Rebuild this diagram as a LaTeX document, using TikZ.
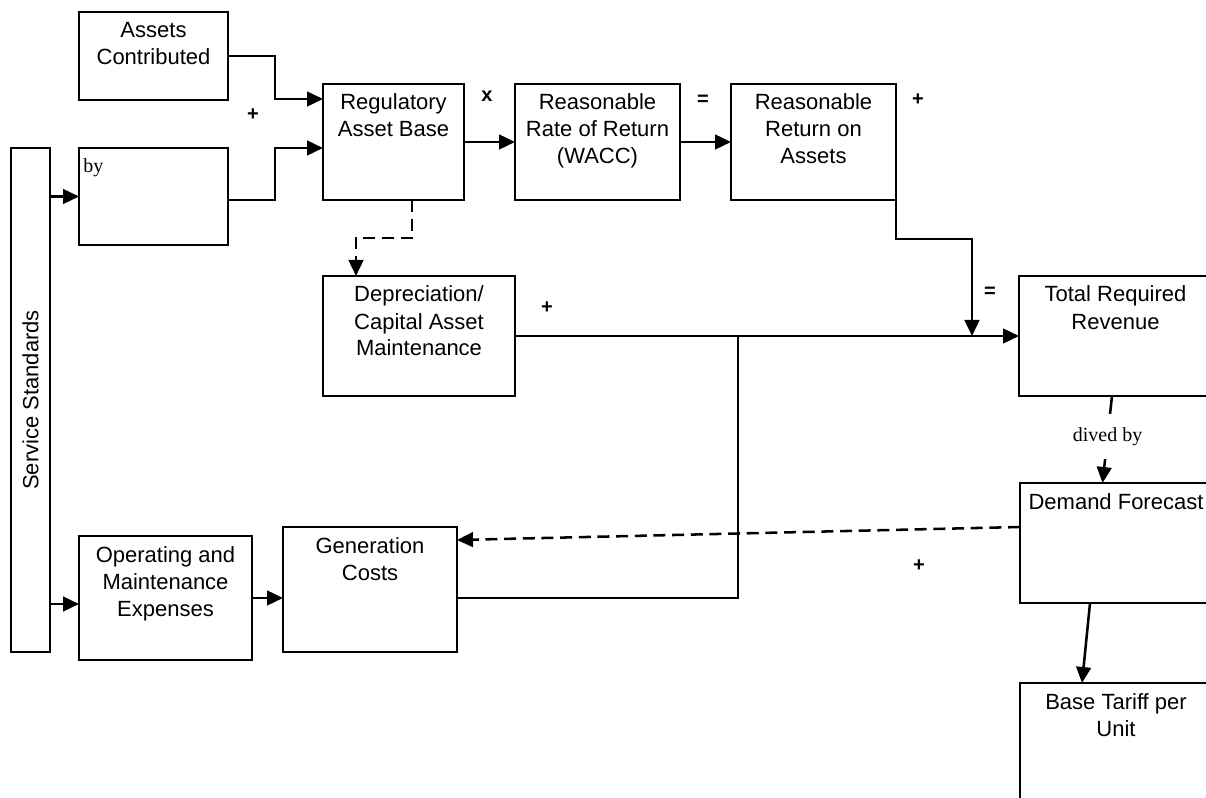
\documentclass[tikz,border=0pt]{standalone}
\usepackage{fontspec}
\usepackage{graphicx}
\setmainfont{Liberation Sans}
\newfontfamily\seriffont{Liberation Serif}
\usetikzlibrary{arrows.meta,calc}
\tikzset{
  box/.style={draw, line width=1.3pt, inner sep=0pt, outer sep=0pt, font=\fontsize{16.5}{20.25}\selectfont},
  line/.style={line width=1.9pt},
  conn/.style={line, -{Triangle[length=12pt,width=11pt]}},
  dconn/.style={conn, dash pattern=on 9pt off 5pt},
  sym/.style={font=\bfseries\fontsize{15}{17}\selectfont, inner sep=0pt},
  lbl/.style={fill=white, font=\seriffont\fontsize{15}{17}\selectfont, inner xsep=4pt, inner ysep=10pt}
}
\newcommand\diabox[6]{%
  \pgfmathsetmacro\bw{(#4-#2)*0.75}%
  \pgfmathsetmacro\bh{(#5-#3)*0.75}%
  \node[box, anchor=north west] (#1) at (#2,#3)
    {\parbox[b][\bh pt][t]{\bw pt}{\centering\rule{0pt}{19.5pt}#6\par}};}
\begin{document}
\begin{tikzpicture}[x=0.75pt,y=-0.75pt]
\useasboundingbox (0,0) rectangle (1206,798);
\fill[white] (0,0) rectangle (1206,798);
\clip (0,0) rectangle (1206,798);

\diabox{assets}{79}{12}{228}{100}{Assets\\Contributed}
\diabox{by}{79}{148}{228}{245}{}
\node[anchor=north west, inner sep=0pt, font=\seriffont\fontsize{15}{17}\selectfont] (bytxt) at (83,158) {by};
\diabox{rab}{323}{84}{464}{200}{Regulatory\\Asset Base}
\diabox{wacc}{515}{84}{680}{200}{Reasonable\\Rate of Return\\(WACC)}
\diabox{rroa}{731}{84}{896}{200}{Reasonable\\Return on\\Assets}
\diabox{dep}{323}{276}{515}{396}{Depreciation/\\Capital Asset\\Maintenance}
\diabox{trr}{1019}{276}{1212}{396}{Total Required\\Revenue}
\diabox{dem}{1020}{483}{1212}{603}{Demand Forecast}
\diabox{base}{1020}{683}{1212}{830}{Base Tariff per\\Unit}
\diabox{ome}{79}{536}{252}{660}{Operating and\\Maintenance\\Expenses}
\diabox{gen}{283}{527}{457}{652}{Generation\\Costs}
\node[box, anchor=north west, minimum width=29.25pt, minimum height=378pt] (ss) at (11,148)
  {\rotatebox{90}{Service Standards}};

% connectors
\draw[conn] (assets.east) -- ++(47,0) |- ($(rab.west)+(0,-43)$);
\draw[conn] ($(by.east)+(0,3.5)$) -- ++(47,0) |- ($(rab.west)+(0,6)$);
\draw[conn] (ss.east |- by.west) -- (by.west);
\draw[conn] ($(ss.east |- ome.west)+(0,6)$) -- ($(ome.west)+(0,6)$);
\draw[conn] (rab.east) -- (wacc.west);
\draw[conn] (wacc.east) -- (rroa.west);
\draw[conn] (rroa.east) -- ++(0,97) -| ($(trr.west)+(-47,0)$);
\draw[conn] (dep.east) -- (trr.west);
\coordinate (jn) at ($(dep.east)+(223,0)$);
\draw[line] ($(gen.east)+(0,8.5)$) -| (jn);
\draw[conn] (ome.east) -- (gen.west |- ome.east);
\draw[dconn] ($(rab.south)+(18.5,0)$) -- ++(0,38) -| ($(dep.north)+(-63,0)$);
\draw[conn] ($(trr.south)+(-3.5,0)$) -- node[lbl, pos=0.47] (dived) {dived by} ($(dem.north)+(-13.5,0)$);
\draw[dconn] ($(dem.west)+(0,-16)$) -- ($(gen.east)+(0,-49.5)$);
\draw[conn] ($(dem.south)+(-26,0)$) -- ($(base.north)+(-34,0)$);

% operators
\node[sym] (s1) at (253,115) {+};
\node[sym] (s2) at (487,96) {x};
\node[sym] (s3) at (703,100) {=};
\node[sym] (s4) at (918,100) {+};
\node[sym] (s5) at (547,308) {+};
\node[sym] (s6) at (990,292) {=};
\node[sym] (s7) at (919,566) {+};
\end{tikzpicture}
\end{document}
